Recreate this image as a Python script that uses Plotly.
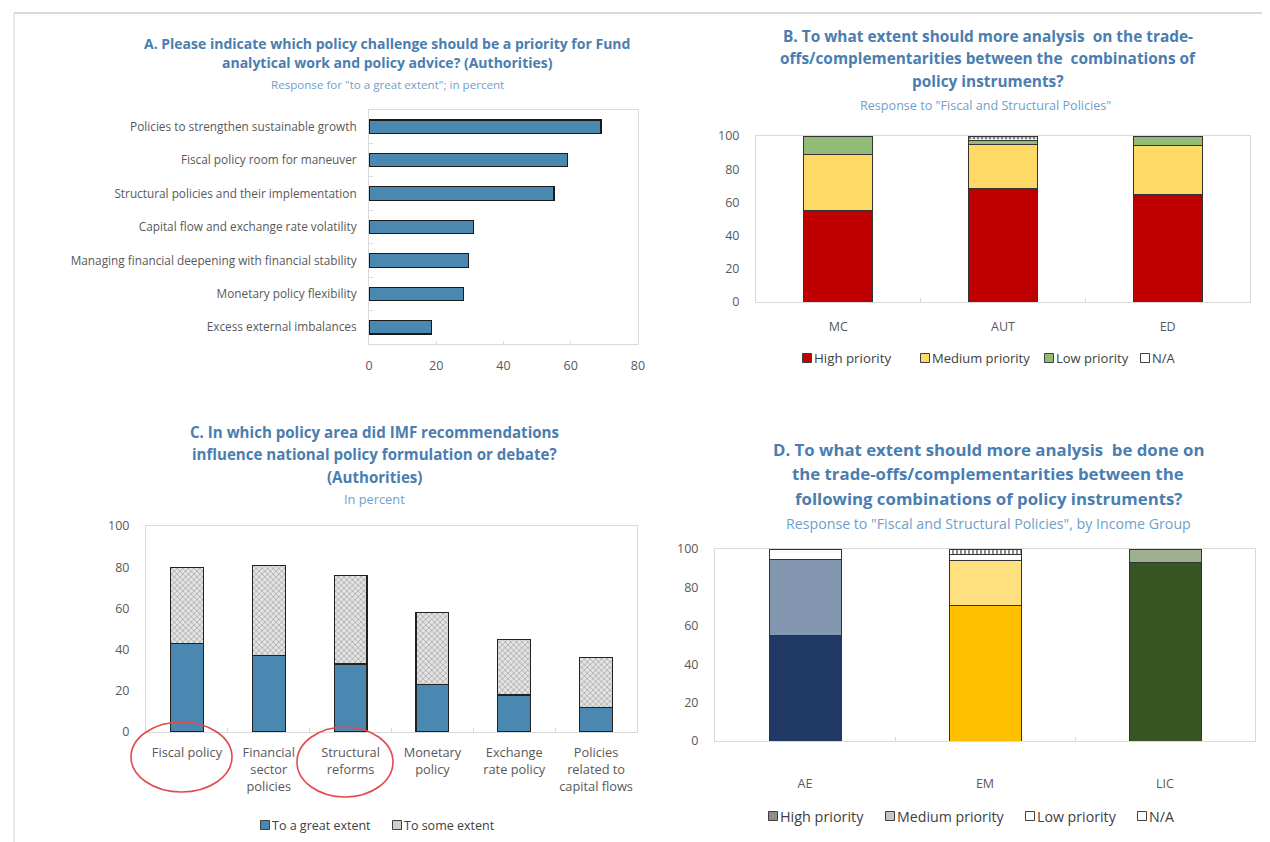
import plotly.graph_objects as go

W, H = 1270, 842

# ---- data -------------------------------------------------------------
# A. policy challenges (percent answering "to a great extent")
a_categories = [
    "Policies to strengthen sustainable growth",
    "Fiscal policy room for maneuver",
    "Structural policies and their implementation",
    "Capital flow and exchange rate volatility",
    "Managing financial deepening with financial stability",
    "Monetary policy flexibility",
    "Excess external imbalances",
]
a_values = [69, 59, 55, 31, 29.5, 28, 18.5]
a_ticks = [0, 20, 40, 60, 80]

# B. fiscal & structural policies, by respondent group
b_groups = ["MC", "AUT", "ED"]
b_high = [55, 68.5, 64.5]
b_medium = [34, 26.5, 29.5]
b_low = [11, 2, 6]
b_na = [0, 3, 0]

# C. where IMF advice influenced policy
c_areas = ["Fiscal policy", "Financial<br>sector<br>policies", "Structural<br>reforms",
           "Monetary<br>policy", "Exchange<br>rate policy", "Policies<br>related to<br>capital flows"]
c_great = [43, 37, 33, 23, 18, 12]
c_some = [37, 44, 43, 35, 27, 24]

# D. by income group
d_groups = ["AE", "EM", "LIC"]
d_high = [55, 70.5, 93]
d_medium = [39.5, 23.5, 7]
d_low = [0, 3, 0]
d_na = [5.5, 3, 0]

pct_ticks = [0, 20, 40, 60, 80, 100]

# ---- style ------------------------------------------------------------
FONT = "Open Sans"
GRAY = "#595959"
FRAME = "#D9D9D9"
TITLE = "#4A7DB0"
SUB = "#6FA0CC"
BLUE = "#4A88B2"

PAGE_MARGIN = 8  # the browser's body margin shifts the figure


def px(x):
    return (x - PAGE_MARGIN) / W


def py(y):
    return 1 - (y - PAGE_MARGIN) / H


fig = go.Figure()

# A
fig.add_trace(go.Bar(
    y=a_categories, x=a_values, orientation="h", width=0.4,
    marker=dict(color=BLUE, line=dict(color="#1a1a1a", width=1.2)),
    xaxis="x", yaxis="y"))

# B
b_series = [
    ("High priority", b_high, "#C00000", None),
    ("Medium priority", b_medium, "#FFD966", None),
    ("Low priority", b_low, "#93BB78", None),
    ("N/A", b_na, "#FFFFFF", "."),
]
for name, vals, col, pat in b_series:
    mk = dict(color=col, line=dict(color="#333333", width=1))
    if pat:
        mk["pattern"] = dict(shape=pat, fgcolor="#808080", bgcolor="#FFFFFF", size=4, solidity=0.4)
    fig.add_trace(go.Bar(x=b_groups, y=vals, name=name, width=0.42, marker=mk,
                         xaxis="x2", yaxis="y2"))

# C
fig.add_trace(go.Bar(x=c_areas, y=c_great, name="To a great extent", width=0.4,
                     marker=dict(color=BLUE, line=dict(color="#222222", width=1.2)),
                     xaxis="x3", yaxis="y3"))
fig.add_trace(go.Bar(x=c_areas, y=c_some, name="To some extent", width=0.4,
                     marker=dict(color="#D6D6D6", line=dict(color="#222222", width=1.2),
                                 pattern=dict(shape="x", fgcolor="#8c8c8c", bgcolor="#E3E3E3",
                                              size=4, solidity=0.25)),
                     xaxis="x3", yaxis="y3"))

# D (colours vary by bar)
d_series = [
    ("High priority", d_high, ["#1F3864", "#FFC000", "#375623"], None),
    ("Medium priority", d_medium, ["#8497B0", "#FFE07F", "#9CAF8E"], None),
    ("Low priority", d_low, ["#FFFFFF", "#FFFFFF", "#FFFFFF"], "."),
    ("N/A", d_na, ["#FFFFFF", "#7F7F7F", "#FFFFFF"], "|"),
]
for name, vals, cols, pat in d_series:
    mk = dict(color=cols, line=dict(color="#333333", width=1))
    if pat:
        mk["pattern"] = dict(shape=pat, fgcolor="#8a8a8a", size=4, solidity=0.45)
    fig.add_trace(go.Bar(x=d_groups, y=vals, name=name, width=0.4, marker=mk,
                         xaxis="x4", yaxis="y4"))

# ---- axes -------------------------------------------------------------
tickfont = dict(family=FONT, size=12.5, color=GRAY)
frame = dict(showline=True, mirror=True, linecolor=FRAME, linewidth=1,
             showgrid=False, zeroline=False, automargin=False)

fig.update_layout(
    template="none",
    xaxis=dict(domain=[px(369), px(638)], anchor="y", range=[0, 80], tickvals=a_ticks,
               ticks="inside", ticklen=3, tickcolor=FRAME, ticklabelstandoff=10,
               tickfont=tickfont, **frame),
    yaxis=dict(domain=[py(344), py(110)], anchor="x", autorange="reversed",
               ticks="inside", tickson="boundaries", ticklen=4, tickcolor=FRAME,
               ticklabelstandoff=9, tickfont=dict(family=FONT, size=11.8, color=GRAY), **frame),
    xaxis2=dict(domain=[px(756), px(1250)], anchor="y2", ticks="inside", tickson="boundaries",
                ticklen=4, tickcolor=FRAME, ticklabelstandoff=13, tickfont=tickfont, **frame),
    yaxis2=dict(domain=[py(302), py(136)], anchor="x2", range=[0, 100], tickvals=pct_ticks,
                ticklabelstandoff=13, tickfont=tickfont, **frame),
    xaxis3=dict(domain=[px(146), px(637)], anchor="y3", ticks="inside", tickson="boundaries",
                ticklen=4, tickcolor=FRAME, ticklabelstandoff=9, tickangle=0,
                tickfont=dict(family=FONT, size=12.8, color=GRAY), **frame),
    yaxis3=dict(domain=[py(732), py(526)], anchor="x3", range=[0, 100], tickvals=pct_ticks,
                ticklabelstandoff=13, tickfont=tickfont, **frame),
    xaxis4=dict(domain=[px(715), px(1255)], anchor="y4", ticks="inside", tickson="boundaries",
                ticklen=4, tickcolor=FRAME, ticklabelstandoff=31, tickfont=tickfont, **frame),
    yaxis4=dict(domain=[py(741), py(549)], anchor="x4", range=[0, 100], tickvals=pct_ticks,
                ticklabelstandoff=13, tickfont=tickfont, **frame),
    barmode="stack",
    showlegend=False,
)

# ---- legends (swatch + label, placed under each panel) -----------------
legends = [
    # label, swatch colour, swatch centre x, y, font size
    ("High priority", "#C00000", 807, 358, 13.3),
    ("Medium priority", "#FFD966", 925, 358, 13),
    ("Low priority", "#93BB78", 1049, 358, 13),
    ("N/A", "#FFFFFF", 1145, 358, 13),
    ("To a great extent", BLUE, 265, 825, 12.5),
    ("To some extent", "#CFCFCF", 397, 825, 12.5),
    ("High priority", "#8C8C8C", 773, 816, 14.4),
    ("Medium priority", "#C4C4C4", 890, 816, 14.2),
    ("Low priority", "#FFFFFF", 1030, 816, 14.2),
    ("N/A", "#FFFFFF", 1142, 816, 14.2),
]
for label, col, x, y, size in legends:
    fig.add_shape(type="rect", xref="paper", yref="paper",
                  x0=px(x - 4.5), x1=px(x + 4.5), y0=py(y + 4.5), y1=py(y - 4.5),
                  fillcolor=col, line=dict(color="#404040", width=1))
    fig.add_annotation(text=label, xref="paper", yref="paper", x=px(x + 5), y=py(y),
                       xanchor="left", yanchor="middle", showarrow=False,
                       font=dict(family=FONT, size=size, color="#404040"))

# ---- titles -----------------------------------------------------------
titles = [
    # text, centre x, y, size, colour, bold
    ("A. Please indicate which policy challenge should be a priority for Fund", 387, 43, 14, TITLE, True),
    ("analytical work and policy advice? (Authorities)", 387, 63, 14, TITLE, True),
    ("Response for \"to a great extent\"; in percent", 387, 85, 11.6, SUB, False),
    ("B. To what extent should more analysis  on the trade-", 988, 36, 15.4, TITLE, True),
    ("offs/complementarities between the  combinations of", 988, 59, 15.4, TITLE, True),
    ("policy instruments?", 988, 82, 15.4, TITLE, True),
    ("Response to \"Fiscal and Structural Policies\"", 985, 105, 12.6, SUB, False),
    ("C. In which policy area did IMF recommendations", 375, 432, 15.1, TITLE, True),
    ("influence national policy formulation or debate?", 375, 454, 15.1, TITLE, True),
    ("(Authorities)", 375, 477, 15.1, TITLE, True),
    ("In percent", 375, 499, 12.8, SUB, False),
    ("D. To what extent should more analysis  be done on", 988, 449, 16.8, TITLE, True),
    ("the trade-offs/complementarities between the", 988, 474, 16.8, TITLE, True),
    ("following combinations of policy instruments?", 988, 498, 16.8, TITLE, True),
    ("Response to \"Fiscal and Structural Policies\", by Income Group", 988, 523, 14.2, SUB, False),
]
for text, x, y, size, col, bold in titles:
    fig.add_annotation(
        text=f"<b>{text}</b>" if bold else text, xref="paper", yref="paper",
        x=px(x), y=py(y), xanchor="center", yanchor="middle", showarrow=False,
        font=dict(family=FONT, size=size, color=col))

# ---- page frame and hand-drawn circles --------------------------------
fig.add_shape(type="line", xref="paper", yref="paper", x0=px(14), x1=1, y0=py(13), y1=py(13),
              line=dict(color="#D9D9D9", width=2))
fig.add_shape(type="line", xref="paper", yref="paper", x0=px(14), x1=px(14), y0=py(13), y1=0,
              line=dict(color="#E3E3E3", width=1.5))
for x0, x1, y0, y1 in [(131, 232, 722, 792), (297, 393, 727, 797)]:
    fig.add_shape(type="circle", xref="paper", yref="paper",
                  x0=px(x0), x1=px(x1), y0=py(y1), y1=py(y0),
                  line=dict(color="#E5484D", width=1.6))

fig.update_layout(
    width=W, height=H, margin=dict(l=0, r=0, t=0, b=0, autoexpand=False),
    paper_bgcolor="white", plot_bgcolor="white",
    font=dict(family=FONT, color=GRAY),
)

fig.write_html("out.html")
